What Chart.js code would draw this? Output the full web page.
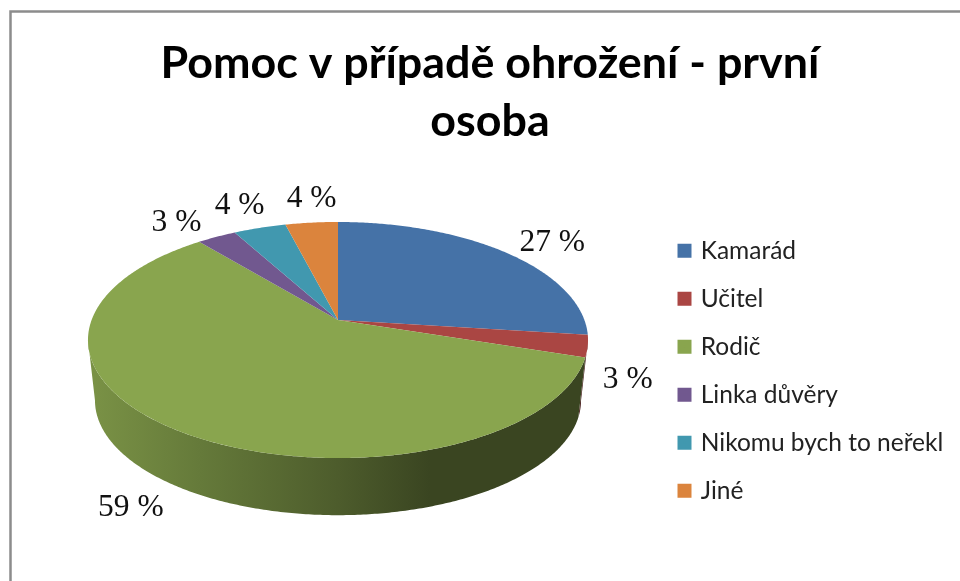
<!DOCTYPE html>
<html lang="cs">
<head>
<meta charset="utf-8">
<title>Pomoc v případě ohrožení - první osoba</title>
<script src="https://cdn.jsdelivr.net/npm/chart.js@4"></script>
<style>
html,body{margin:0;padding:0;background:#fff;overflow:hidden}
canvas{display:block;filter:blur(0.45px)}
</style>
</head>
<body>
<canvas id="c" width="960" height="581"></canvas>
<script>
const titleLines = ['Pomoc v případě ohrožení - první', 'osoba'];
const categories = ['Kamarád', 'Učitel', 'Rodič', 'Linka důvěry', 'Nikomu bych to neřekl', 'Jiné'];
const shares = [27, 3, 59, 3, 4, 4];
const colors = ['#4572A7', '#AA4643', '#89A54E', '#71588F', '#4198AF', '#DB843D'];
const labelShift = [[48, -9.5], [40, 33.5], [-46, 77.5], [-40, -14.5], [-20, -22.5], [0, -23.5]];

// Perspective view of the flat pie: maps a unit-circle point to the picture.
const view = { cx: 338, cy: 320, a: 246.4, b: 60.4, c: -0.1695, depthScale: 0.972, depthY: 61 };
const legendSpot = { x: 680.5, y: 238.5 };
function topRim(angle) {
  const x = Math.cos(angle), y = Math.sin(angle), w = 1 + view.c * y;
  return [view.cx + view.a * x / w, (view.b * y + view.cy) / w];
}
function bottomRim(angle) {
  const [X, Y] = topRim(angle);
  return [view.cx + (X - view.cx) * view.depthScale,
          view.cy + view.depthY + (Y - view.cy) * view.depthScale];
}
const frontFrom = 9.76 * Math.PI / 180, frontTo = 170.24 * Math.PI / 180;
const sideShade = [[95, .88], [200, .74], [338, .56], [430, .42], [590, .42]];

function shaded(hex, k) {
  const n = parseInt(hex.slice(1), 16);
  return `rgb(${Math.round((n >> 16) * k)},${Math.round(((n >> 8) & 255) * k)},${Math.round((n & 255) * k)})`;
}
function rim(ctx, fn, a0, a1) {
  const steps = Math.max(2, Math.ceil(Math.abs(a1 - a0) / 0.01));
  for (let i = 0; i <= steps; i++) {
    const p = fn(a0 + (a1 - a0) * i / steps);
    ctx.lineTo(p[0], p[1]);
  }
}

const pie3d = {
  id: 'pie3d',
  afterLayout(chart) {
    const lg = chart.legend, pad = lg.options.labels.padding;
    const h = lg.bottom - lg.top, w = lg.right - lg.left;
    lg.left = legendSpot.x - pad;
    lg.right = lg.left + w;
    lg.top = legendSpot.y - pad;
    lg.bottom = lg.top + h;
  },
  beforeDraw(chart) {
    const ctx = chart.ctx;
    ctx.save();
    ctx.strokeStyle = '#8c8c8c';
    ctx.lineWidth = 2.5;
    ctx.beginPath();
    ctx.moveTo(10.5, chart.height);
    ctx.lineTo(10.5, 11.5);
    ctx.lineTo(chart.width, 11.5);
    ctx.stroke();
    ctx.restore();
  },
  beforeDatasetDraw(chart, args) {
    const ctx = chart.ctx, arcs = args.meta.data;
    ctx.save();
    arcs.forEach((el, i) => {
      const a0 = Math.max(el.startAngle, frontFrom), a1 = Math.min(el.endAngle, frontTo);
      if (a1 <= a0) return;
      const g = ctx.createLinearGradient(sideShade[0][0], 0, sideShade[4][0], 0);
      sideShade.forEach(s => g.addColorStop((s[0] - 95) / 495, shaded(colors[i], s[1])));
      ctx.fillStyle = g;
      ctx.beginPath();
      rim(ctx, topRim, a0, a1);
      rim(ctx, bottomRim, a1, a0);
      ctx.closePath();
      ctx.fill();
    });
    arcs.forEach((el, i) => {
      ctx.fillStyle = colors[i];
      ctx.beginPath();
      ctx.moveTo(view.cx, view.cy);
      rim(ctx, topRim, el.startAngle, el.endAngle);
      ctx.closePath();
      ctx.fill();
    });
    ctx.restore();
    return false;
  },
  afterDatasetsDraw(chart) {
    const ctx = chart.ctx, arcs = chart.getDatasetMeta(0).data;
    ctx.save();
    ctx.font = '31.5px "Liberation Serif"';
    ctx.fillStyle = '#111';
    ctx.textAlign = 'center';
    ctx.textBaseline = 'middle';
    arcs.forEach((el, i) => {
      const p = topRim((el.startAngle + el.endAngle) / 2);
      ctx.fillText(shares[i] + ' %', p[0] + labelShift[i][0], p[1] + labelShift[i][1]);
    });
    ctx.restore();
  }
};

new Chart(document.getElementById('c'), {
  type: 'pie',
  data: {
    labels: categories,
    datasets: [{ data: shares, backgroundColor: colors, borderWidth: 0 }]
  },
  plugins: [pie3d],
  options: {
    responsive: false,
    animation: false,
    layout: { padding: { left: 26, right: 6, top: 0, bottom: 0 } },
    plugins: {
      tooltip: { enabled: false },
      title: {
        display: true,
        text: titleLines,
        color: '#000',
        font: { family: 'Lato', weight: 'bold', size: 44.8, lineHeight: 1.295 },
        padding: { top: 35, bottom: 10 }
      },
      legend: {
        position: 'right',
        align: 'start',
        labels: {
          boxWidth: 8, boxHeight: 8,
          color: '#222',
          padding: 23.5,
          font: { family: 'Lato', size: 24.5 },
          generateLabels(chart) {
            return Chart.overrides.pie.plugins.legend.labels.generateLabels(chart).map(item => {
              item.strokeStyle = item.fillStyle;
              item.lineWidth = 6;
              return item;
            });
          }
        }
      }
    }
  }
});
</script>
</body>
</html>
